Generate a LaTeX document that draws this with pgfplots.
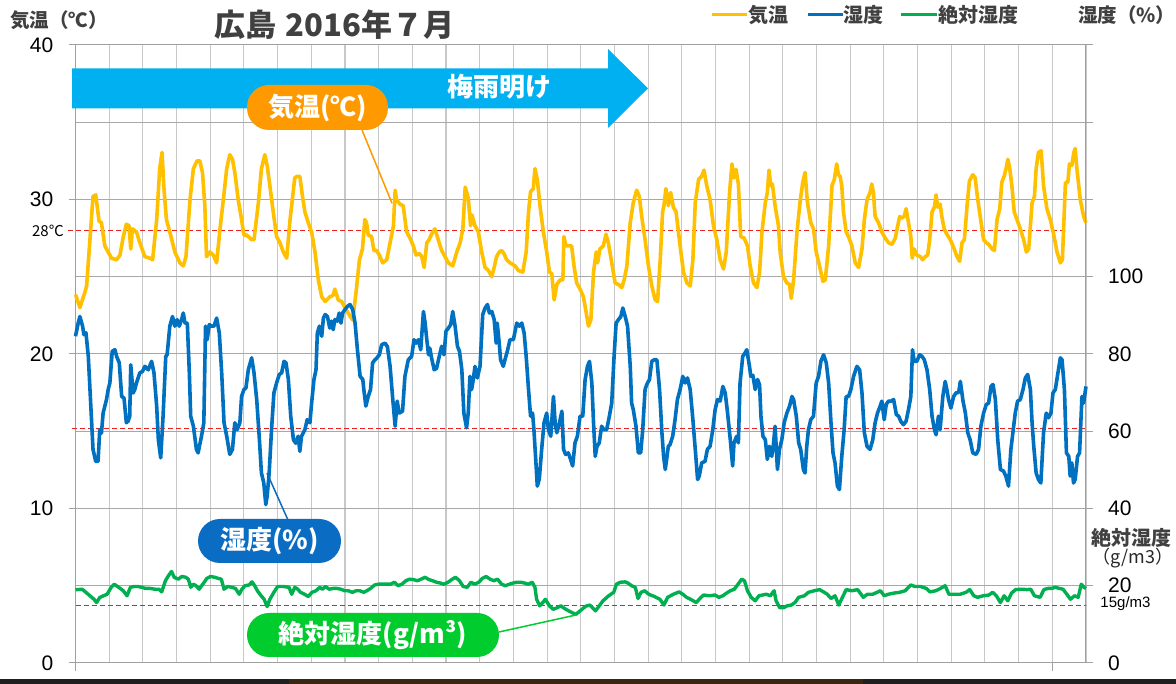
\documentclass[border=0pt]{standalone}
\usepackage{pgfplots}
\pgfplotsset{compat=1.18}
\usepackage{fontspec}
\setmainfont{Liberation Sans}
\newfontfamily\jp{Noto Sans CJK JP}
\definecolor{tempc}{HTML}{FFC000}
\definecolor{humc}{HTML}{0070C0}
\definecolor{ahc}{HTML}{00B050}
\definecolor{arrowc}{HTML}{00B0F0}
\definecolor{orb}{HTML}{FF9900}
\definecolor{blb}{HTML}{0A6CC2}
\definecolor{grb}{HTML}{00CC2E}
\definecolor{txt}{HTML}{404040}
\definecolor{vgrid}{HTML}{C8C8C8}
\definecolor{hgrid}{HTML}{A8A8A8}
\definecolor{axg}{HTML}{A0A0A0}
\definecolor{redd}{HTML}{E8201E}
\pgfplotsset{
  base/.style={
    scale only axis, width=1010.5pt, height=618pt,
    at={(75.5pt,21pt)}, anchor=south west,
    xmin=0, xmax=30, clip=false,
    tick align=outside, major tick length=7pt, minor tick length=0pt,
    axis line style={draw=axg, line width=1pt},
    /pgf/number format/assume math mode=true,
    tick label style={font=\fontsize{21}{21}\selectfont, text=black, inner sep=0pt},
  }
}
\begin{document}
\begin{tikzpicture}[x=1pt,y=1pt]
\useasboundingbox (0,0) rectangle (1176,684);
\fill[white] (0,0) rectangle (1176,684);
% left axis: temperature
\begin{axis}[base,
  ymin=0, ymax=40,
  xtick={0,1,...,30}, xticklabels={}, x tick style={draw=none},
  ytick={0,10,20,30,40}, minor ytick={0,5,...,40},
  y tick style={draw=axg, line width=1pt},
  xmajorgrids, yminorgrids,
  major grid style={draw=vgrid, line width=1.1pt},
  minor grid style={draw=hgrid, line width=1pt},
  yticklabel style={anchor=east, xshift=-15pt},
]
\draw[redd, dash pattern=on 5pt off 3pt, line width=1.1pt] (axis cs:-0.21,28) -- (axis cs:29.47,28);
\addplot[tempc, line width=3.6pt, line join=round, no markers] table {
0 23.85
0.13 23.0
0.28 24.0
0.33 24.4
0.52 30.2
0.60 30.3
0.70 28.6
0.77 28.5
0.87 27.0
0.97 26.6
1.07 26.2
1.22 26.1
1.32 26.4
1.42 27.6
1.51 28.4
1.59 28.3
1.64 26.8
1.69 28.1
1.81 27.9
1.91 27.2
2.06 26.3
2.21 26.2
2.29 26.1
2.41 28.7
2.50 32.0
2.57 33.05
2.62 30.9
2.70 28.7
2.80 27.9
2.95 26.6
3.10 25.9
3.20 25.7
3.28 26.3
3.40 30.0
3.50 32.0
3.61 32.5
3.69 32.5
3.77 31.75
3.84 29.6
3.89 26.3
3.99 26.6
4.09 26.4
4.19 25.9
4.29 28.1
4.39 30.0
4.49 32.0
4.58 32.9
4.66 32.6
4.73 31.75
4.83 30.0
4.93 28.7
5.00 27.7
5.08 27.7
5.23 27.4
5.30 27.4
5.43 29.8
5.52 32.0
5.62 32.9
5.69 32.2
5.77 30.9
5.87 29.2
5.97 27.6
6.07 27.2
6.17 26.6
6.27 26.2
6.37 28.7
6.51 31.4
6.58 31.5
6.66 31.5
6.74 30.2
6.81 29.2
6.91 28.5
7.01 27.9
7.11 26.6
7.21 24.8
7.31 23.7
7.41 23.4
7.55 23.7
7.65 23.8
7.70 24.2
7.80 23.5
7.90 23.4
8.00 23.0
8.15 22.45
8.23 22.2
8.33 24.0
8.43 26.1
8.52 26.8
8.59 28.7
8.64 28.5
8.69 27.7
8.79 27.6
8.86 26.7
8.94 26.7
9.02 26.4
9.12 25.9
9.24 26.1
9.34 27.2
9.44 28.3
9.49 30.6
9.53 30.0
9.63 29.7
9.73 29.6
9.83 27.9
9.93 27.5
10.03 27.0
10.11 26.4
10.21 26.5
10.28 26.3
10.35 25.6
10.43 27.2
10.50 27.4
10.57 27.75
10.67 28.1
10.77 27.4
10.87 26.7
10.97 26.3
11.07 25.9
11.20 25.7
11.32 26.6
11.42 27.2
11.50 28.1
11.57 30.8
11.66 30.1
11.73 28.3
11.77 29.0
11.86 28.3
11.96 27.9
12.06 26.6
12.16 25.6
12.26 25.4
12.36 25.0
12.44 25.7
12.50 26.3
12.58 26.6
12.65 26.7
12.72 26.5
12.80 26.1
12.90 25.9
13.05 25.7
13.15 25.4
13.28 25.3
13.38 26.6
13.45 29.2
13.51 30.5
13.59 30.7
13.64 32.0
13.71 31.3
13.79 29.6
13.89 27.9
13.99 26.6
14.07 25.3
14.14 25.2
14.21 23.5
14.29 24.5
14.39 24.8
14.47 24.8
14.50 27.6
14.56 27.0
14.63 27.0
14.73 27.0
14.80 25.7
14.88 24.6
14.98 24.2
15.08 23.7
15.16 22.7
15.23 21.8
15.30 22.2
15.38 25.3
15.46 26.6
15.50 25.9
15.57 26.8
15.67 27.0
15.75 27.75
15.82 27.2
15.92 25.9
16.02 24.6
16.12 24.5
16.22 24.3
16.29 24.8
16.37 25.7
16.47 28.5
16.56 29.8
16.66 30.6
16.74 30.2
16.81 28.9
16.91 27.4
17.01 25.7
17.11 24.4
17.21 23.5
17.28 23.4
17.36 26.1
17.43 29.2
17.47 29.6
17.53 30.7
17.60 29.6
17.67 30.45
17.75 29.5
17.83 29.2
17.95 27.0
18.05 25.3
18.15 24.6
18.25 24.4
18.33 26.1
18.40 29.8
18.50 31.3
18.59 31.5
18.66 31.9
18.74 30.9
18.84 30.0
18.94 28.3
19.04 27.4
19.14 26.1
19.24 25.5
19.32 26.6
19.42 30.5
19.49 32.3
19.55 31.4
19.61 31.95
19.68 31.0
19.75 27.6
19.85 27.5
19.95 27.0
20.03 25.7
20.13 24.6
20.23 24.3
20.31 25.3
20.38 27.9
20.48 29.8
20.54 30.45
20.59 31.9
20.64 30.9
20.69 31.0
20.77 29.6
20.87 28.3
20.92 26.6
21.02 25.0
21.12 24.6
21.20 24.5
21.25 23.6
21.32 24.8
21.42 27.9
21.51 29.8
21.59 31.1
21.66 31.75
21.73 29.8
21.83 28.5
21.91 28.1
21.99 26.6
22.09 25.7
22.19 24.7
22.26 24.8
22.36 27.0
22.46 30.9
22.53 31.3
22.60 32.3
22.65 31.6
22.70 31.5
22.75 30.9
22.80 29.2
22.88 27.9
22.95 27.6
23.05 27.0
23.15 25.9
23.25 25.6
23.35 26.8
23.42 28.7
23.50 30.0
23.59 30.45
23.64 31.0
23.69 30.45
23.74 28.9
23.84 28.5
23.94 27.9
24.04 27.5
24.14 27.2
24.24 27.1
24.34 27.5
24.41 28.3
24.47 28.9
24.53 28.8
24.60 28.9
24.66 29.4
24.73 28.5
24.80 27.6
24.84 26.2
24.90 26.8
24.98 26.4
25.08 26.3
25.15 26.1
25.23 26.3
25.30 26.4
25.36 27.4
25.43 29.2
25.50 29.5
25.55 30.3
25.60 29.5
25.67 29.7
25.72 28.9
25.79 28.1
25.87 27.75
25.97 27.4
26.07 26.9
26.17 26.3
26.25 26.0
26.32 27.2
26.39 27.4
26.47 29.6
26.54 31.2
26.64 31.6
26.71 31.4
26.78 30.1
26.86 28.9
26.96 27.4
27.04 27.2
27.11 27.1
27.21 26.8
27.28 26.7
27.36 28.7
27.44 29.4
27.50 31.1
27.57 31.5
27.63 32.0
27.68 32.6
27.73 32.1
27.80 30.9
27.87 29.2
27.95 28.7
28.05 28.1
28.15 27.4
28.23 26.6
28.30 26.8
28.40 29.8
28.47 30.2
28.52 32.0
28.59 33.05
28.67 33.15
28.74 30.9
28.84 29.4
28.94 28.7
29.04 27.75
29.14 26.6
29.24 25.9
29.30 26.1
29.39 31.1
29.46 31.1
29.51 32.3
29.58 32.2
29.64 33.05
29.68 33.3
29.73 32.0
29.83 30.0
29.93 28.9
30.00 28.5
};
\end{axis}
% right axis: humidity and absolute humidity
\begin{axis}[base,
  ymin=0, ymax=160,
  axis x line=none, axis y line*=right,
  ytick={0,20,...,160}, yticklabels={0,20,40,60,80,100,{},{},{}},
  y tick style={draw=axg, line width=1pt},
  yticklabel style={anchor=west, xshift=15pt},
]
\draw[redd, dash pattern=on 5pt off 3pt, line width=1.1pt] (axis cs:-0.09,60.6) -- (axis cs:30,60.6);
\draw[redd, dash pattern=on 5pt off 3pt, line width=1.1pt] (axis cs:0,15) -- (axis cs:30,15);
\addplot[ahc, line width=3.4pt, line join=round, no markers] table {
0 18.96
0.20 19.1
0.375 17.8
0.55 16.5
0.625 15.65
0.72 16.96
0.83 17.4
0.94 17.8
1.06 19.6
1.15 20.4
1.28 19.6
1.42 18.7
1.53 17.4
1.63 19.6
1.74 19.8
1.85 19.8
1.97 19.6
2.08 19.3
2.22 19.3
2.36 19.1
2.48 19.1
2.56 18.4
2.67 21.3
2.76 22.6
2.85 23.7
2.93 22.2
3.05 21.7
3.16 22.4
3.27 22.2
3.35 21.7
3.42 19.6
3.50 20.4
3.58 20.0
3.67 19.1
3.78 20.4
3.90 21.9
4.01 22.4
4.13 22.2
4.24 21.9
4.33 21.7
4.41 19.1
4.52 19.8
4.64 19.6
4.75 19.3
4.86 17.8
4.94 19.1
5.03 20.0
5.15 20.2
5.24 21.0
5.32 20.0
5.40 18.7
5.51 17.4
5.60 16.5
5.69 14.6
5.77 16.5
5.89 18.3
6.00 19.8
6.17 19.8
6.34 19.6
6.42 17.8
6.51 19.6
6.60 19.1
6.68 18.3
6.80 17.8
6.91 17.2
7.02 18.3
7.14 18.7
7.25 19.6
7.33 19.1
7.42 19.8
7.53 19.1
7.65 19.3
7.76 19.3
7.88 19.1
7.99 18.7
8.10 18.7
8.22 18.3
8.33 18.7
8.44 18.7
8.56 18.3
8.65 18.7
8.76 19.3
8.88 20.2
8.99 20.4
9.13 20.4
9.24 20.4
9.35 20.4
9.47 20.9
9.58 20.0
9.69 20.4
9.81 21.3
9.92 21.7
10.03 21.6
10.15 21.3
10.26 21.7
10.38 22.2
10.49 21.6
10.60 21.3
10.72 20.9
10.83 20.7
10.94 20.4
11.06 20.9
11.17 21.6
11.28 22.2
11.40 21.3
11.51 19.8
11.63 19.6
11.74 20.9
11.85 20.4
11.97 20.9
12.08 21.9
12.19 22.4
12.31 21.7
12.42 21.3
12.53 21.7
12.65 20.4
12.76 20.0
12.88 20.4
12.99 20.7
13.10 20.9
13.22 20.9
13.33 20.7
13.44 20.4
13.56 20.9
13.64 19.6
13.69 16.5
13.78 14.8
13.88 15.7
13.95 16.5
14.07 14.8
14.18 13.9
14.30 14.3
14.41 14.8
14.52 14.1
14.64 13.5
14.75 13.0
14.86 12.6
14.98 13.5
15.15 14.7
15.27 15.0
15.44 13.5
15.55 14.8
15.66 16.1
15.83 17.4
15.98 18.3
16.06 20.4
16.17 20.9
16.32 21.0
16.40 20.7
16.51 20.0
16.62 19.6
16.70 16.7
16.79 18.3
16.90 18.7
17.02 17.8
17.19 17.2
17.35 16.5
17.47 15.0
17.58 17.0
17.75 17.8
17.92 18.4
18.03 17.8
18.14 17.0
18.26 16.5
18.43 15.65
18.57 17.0
18.65 17.6
18.82 17.4
18.99 17.6
19.10 17.0
19.22 17.4
19.33 18.1
19.44 18.7
19.56 19.1
19.67 20.4
19.78 21.7
19.86 21.3
19.95 18.7
20.06 17.0
20.18 16.1
20.29 17.4
20.40 17.6
20.51 17.8
20.63 17.4
20.74 18.7
20.80 16.1
20.91 14.3
21.02 14.3
21.13 14.8
21.25 15.0
21.36 15.65
21.47 17.0
21.64 17.4
21.76 18.3
21.93 18.7
22.09 19.0
22.21 18.4
22.32 17.8
22.43 16.7
22.55 17.4
22.66 15.0
22.77 17.0
22.88 19.0
23.05 18.7
23.22 19.0
23.39 17.0
23.51 17.8
23.67 17.8
23.90 18.7
24.01 17.4
24.13 17.8
24.30 18.1
24.47 18.3
24.63 18.7
24.80 20.2
24.92 19.8
25.09 19.8
25.26 19.3
25.37 18.4
25.54 18.7
25.68 19.3
25.82 20.0
25.93 17.8
26.10 17.8
26.27 17.8
26.44 18.3
26.55 19.0
26.67 17.4
26.78 17.0
26.95 17.4
27.12 17.6
27.23 18.3
27.34 17.4
27.46 15.65
27.57 17.4
27.68 16.1
27.79 18.1
27.91 19.0
28.08 19.1
28.25 19.0
28.36 19.1
28.47 17.4
28.64 17.0
28.75 19.0
28.87 19.3
28.98 19.3
29.09 19.6
29.21 19.3
29.32 19.1
29.45 17.6
29.54 16.5
29.66 17.4
29.77 17.0
29.86 20.4
29.94 19.6
30.00 19.3
};
\addplot[humc, line width=3.6pt, line join=round, no markers] table {
0 84.6
0.08 88
0.13 89.7
0.21 87.2
0.25 85
0.31 85.5
0.38 79.4
0.43 70.8
0.48 62.2
0.52 55.3
0.60 52.2
0.67 52.2
0.72 60.4
0.77 59.5
0.82 64.7
0.92 68.2
0.97 70.8
1.02 72.5
1.09 80.7
1.17 81.1
1.22 79.4
1.30 77.7
1.37 69
1.44 68.6
1.51 62.2
1.56 62.6
1.61 63.9
1.64 77.2
1.71 69.9
1.76 70.8
1.81 72.5
1.91 75.1
1.99 75.5
2.06 76.8
2.16 75.9
2.26 78.1
2.33 75.1
2.41 66.5
2.46 57.8
2.53 53.1
2.60 63.9
2.68 79.4
2.72 79.8
2.80 87.2
2.88 89.7
2.95 87.2
3.02 88.9
3.08 87.2
3.15 88.9
3.20 90.6
3.25 88
3.32 88
3.38 75.1
3.42 63.9
3.50 61.3
3.59 55.3
3.64 54.4
3.74 58.7
3.81 62.2
3.86 87.2
3.91 83.7
3.97 87.6
4.04 87.2
4.11 87.2
4.19 89.3
4.27 85.4
4.34 75.1
4.41 62.2
4.49 58.7
4.58 54.0
4.66 55.3
4.73 62.2
4.80 60.4
4.88 62.2
4.93 69
5.00 70.8
5.06 71.2
5.13 75.9
5.23 79.0
5.30 75.1
5.38 68.2
5.46 57.8
5.52 49.2
5.59 46.6
5.65 41.0
5.69 43.2
5.75 49.2
5.82 60.4
5.89 69.9
5.97 72.5
6.05 74.7
6.12 75.1
6.19 78.1
6.25 77.7
6.32 73.4
6.39 63.9
6.47 57.8
6.54 56.9
6.61 58.7
6.66 54.8
6.71 58.7
6.81 60.4
6.88 63.0
6.96 62.2
7.01 67.3
7.08 73.4
7.14 75.9
7.18 85.4
7.24 87.2
7.31 84.6
7.36 89.3
7.41 90.2
7.48 89.7
7.55 86.7
7.60 88.5
7.65 86.3
7.70 88.9
7.77 88.5
7.83 90.6
7.88 88
7.93 90.6
8.00 91.5
8.07 92.3
8.15 92.8
8.23 91.5
8.30 88.0
8.37 81.1
8.45 74.2
8.53 73.4
8.56 70.8
8.62 66.5
8.69 69.0
8.76 70.8
8.82 77.7
8.89 78.5
8.94 78.9
9.02 79.8
9.09 82.4
9.19 82.8
9.26 81.9
9.34 76.8
9.42 68.2
9.49 61.3
9.55 67.8
9.61 64.7
9.71 65.2
9.78 74.2
9.88 78.5
9.98 79.4
10.05 83.7
10.11 82.8
10.18 83.7
10.25 81.1
10.33 91.0
10.38 88.0
10.43 83.7
10.48 79.8
10.52 81.5
10.57 79.0
10.65 75.9
10.72 76.3
10.80 79.4
10.87 82.0
10.94 79.8
11.00 85.9
11.07 86.7
11.14 87.6
11.20 91.0
11.27 87.2
11.34 82.0
11.40 80.7
11.47 75.9
11.53 64.7
11.61 60.9
11.66 64.7
11.71 74.2
11.76 70.8
11.81 73.4
11.86 76.8
11.93 73.8
12.01 76.8
12.09 90.2
12.16 91.9
12.23 92.8
12.29 90.6
12.36 91.0
12.43 88.9
12.49 82.8
12.52 88.0
12.58 82.8
12.62 78.5
12.70 76.8
12.75 78.5
12.82 80.7
12.90 83.7
13.00 83.7
13.10 88.0
13.18 87.2
13.25 88.0
13.32 85.4
13.38 79.4
13.45 70.8
13.51 63.9
13.57 64.7
13.61 60.4
13.67 51.8
13.71 45.8
13.77 47.6
13.84 55.3
13.91 62.2
13.99 64.7
14.04 60.4
14.11 58.7
14.19 69.0
14.24 62.2
14.29 59.6
14.37 62.2
14.44 65.2
14.49 55.3
14.55 54.0
14.63 54.4
14.70 52.7
14.76 51.0
14.83 57.0
14.90 58.7
14.98 63.9
15.06 63.9
15.13 73.4
15.20 76.8
15.26 78.1
15.33 72.5
15.38 62.2
15.43 53.5
15.48 56.0
15.55 57.0
15.62 61.3
15.69 60.4
15.77 60.4
15.85 63.9
15.92 67.3
15.99 79.4
16.05 88.0
16.12 88.9
16.19 89.7
16.25 91.9
16.32 89.7
16.39 87.2
16.47 76.8
16.51 67.3
16.56 65.6
16.64 61.3
16.71 54.4
16.78 54.4
16.84 60.4
16.91 70.8
16.96 72.1
17.04 73.4
17.11 78.1
17.18 78.5
17.26 78.5
17.34 70.8
17.41 59.6
17.46 53.5
17.51 50.1
17.55 52.7
17.60 56.1
17.65 56.5
17.73 58.7
17.80 63.0
17.87 68.2
17.95 70.8
18.03 74.2
18.10 72.5
18.17 73.8
18.25 70.8
18.33 63.0
18.40 55.3
18.47 47.5
18.52 48.4
18.59 51.8
18.69 52.2
18.76 55.3
18.84 56.1
18.92 60.4
18.99 65.6
19.06 68.2
19.14 67.8
19.22 71.6
19.29 69.9
19.36 64.7
19.44 57.8
19.51 51.0
19.55 57.0
19.63 58.7
19.68 57.0
19.73 72.5
19.81 79.4
19.88 80.3
19.93 81.1
20.01 76.8
20.05 74.2
20.11 74.5
20.18 70.8
20.25 73.4
20.31 72.0
20.35 63.9
20.41 58.7
20.48 57.8
20.54 52.7
20.60 56.1
20.67 53.5
20.72 56.5
20.77 61.3
20.84 50.1
20.90 55.3
20.97 57.8
21.04 62.2
21.12 64.7
21.20 66.5
21.27 69.0
21.32 68.2
21.40 63.9
21.47 57.0
21.53 55.3
21.61 50.1
21.66 49.2
21.71 56.1
21.76 60.4
21.83 63.0
21.91 63.9
21.99 72.5
22.06 74.2
22.13 78.1
22.21 79.8
22.29 77.7
22.36 72.5
22.43 62.2
22.49 54.4
22.55 51.8
22.62 45.8
22.68 44.9
22.75 53.5
22.82 60.4
22.88 69.0
22.95 69.0
23.02 70.8
23.10 74.2
23.20 76.8
23.28 75.9
23.35 69.9
23.42 59.6
23.50 56.1
23.59 55.3
23.67 57.8
23.74 62.2
23.81 64.7
23.89 66.5
23.94 67.8
24.01 63.0
24.07 67.0
24.14 67.8
24.21 67.8
24.29 68.2
24.37 64.3
24.44 63.9
24.50 62.6
24.58 61.7
24.66 62.6
24.73 65.6
24.80 69.0
24.85 81.1
24.90 78.1
24.98 78.1
25.06 79.8
25.13 79.4
25.20 78.5
25.28 75.9
25.36 70.8
25.43 63.9
25.50 60.4
25.55 59.1
25.62 63.9
25.67 60.4
25.75 69.0
25.82 72.9
25.87 70.8
25.92 68.2
25.99 66.0
26.07 69.0
26.15 70.0
26.22 70.0
26.27 72.9
26.35 67.8
26.42 64.7
26.49 59.6
26.56 57.8
26.64 54.4
26.74 54.0
26.81 55.3
26.88 61.3
26.96 64.7
27.04 66.9
27.11 67.3
27.18 71.6
27.24 72.1
27.31 68.2
27.38 57.8
27.46 50.1
27.55 49.7
27.62 48.4
27.70 45.8
27.77 55.3
27.83 59.6
27.90 64.7
27.97 67.8
28.05 68.2
28.13 70.8
28.20 73.8
28.27 74.7
28.35 70.8
28.40 62.2
28.45 56.1
28.52 49.2
28.59 47.5
28.66 46.6
28.74 59.6
28.82 64.7
28.89 63.5
28.96 64.7
29.02 69.9
29.09 70.8
29.16 74.7
29.24 79.0
29.29 78.5
29.36 70.8
29.42 54.4
29.49 53.5
29.53 48.4
29.58 51.8
29.63 46.6
29.68 47.5
29.75 53.5
29.81 54.4
29.88 69.0
29.93 67.3
30.00 71.6
};
\end{axis}
% small axis extensions below the bottom line
\draw[axg, line width=1pt] (75.5,21) -- (75.5,13.3);
\draw[axg, line width=1pt] (1052,21) -- (1052,13.3);
% rainy-season arrow
\fill[arrowc] (72,615.7) -- (608,615.7) -- (608,635) -- (648,595.7) -- (608,556) -- (608,575.7) -- (72,575.7) -- cycle;
\node[text=white, font=\jp\bfseries\fontsize{26}{26}\selectfont, inner sep=0pt] at (499,597.3) {梅雨明け};
% leader lines
\draw[orb, line width=1.5pt] (362,554) -- (392,480.7);
\draw[blb, line width=1.5pt] (267,211) -- (288,164);
\draw[grb, line width=1.5pt] (499,52) -- (576,69);
% bubbles
\node[fill=orb, rounded corners=22pt, minimum width=141pt, minimum height=45pt, inner sep=0pt, text=white, font=\jp\bfseries\fontsize{26}{26}\selectfont] at (317.5,576.5) {気温(℃)};
\node[fill=blb, rounded corners=22pt, minimum width=143pt, minimum height=44pt, inner sep=0pt, text=white, font=\jp\bfseries\fontsize{26}{26}\selectfont] at (269.5,143) {湿度(\%)};
\node[fill=grb, rounded corners=22pt, minimum width=252pt, minimum height=44pt, inner sep=0pt, text=white, font=\jp\bfseries\fontsize{26}{26}\selectfont] at (373,49) {絶対湿度(g/m³)};
% title and axis titles
\node[text=txt, font=\jp\bfseries\fontsize{31}{31}\selectfont, inner sep=0pt] at (334.5,659) {広島\hspace{9pt}2016年７月};
\node[text=txt, font=\jp\bfseries\fontsize{19.5}{19.5}\selectfont, inner sep=0pt, anchor=west] at (10,664) {気温（℃）};
\node[text=txt, font=\jp\bfseries\fontsize{19.5}{19.5}\selectfont, inner sep=0pt, anchor=west] at (1078,669) {湿度（\%）};
% legend
\draw[tempc, line width=3pt] (712,669) -- (747,669);
\node[text=txt, font=\jp\bfseries\fontsize{20}{20}\selectfont, inner sep=0pt, anchor=west] at (748,669) {気温};
\draw[humc, line width=3pt] (807.6,669) -- (842.5,669);
\node[text=txt, font=\jp\bfseries\fontsize{20}{20}\selectfont, inner sep=0pt, anchor=west] at (843.5,669) {湿度};
\draw[ahc, line width=3pt] (901,669) -- (937,669);
\node[text=txt, font=\jp\bfseries\fontsize{20}{20}\selectfont, inner sep=0pt, anchor=west] at (938,669) {絶対湿度};
% right side labels
\node[text=txt, font=\jp\bfseries\fontsize{20}{20}\selectfont, inner sep=0pt] at (1131,146) {絶対湿度};
\node[text=black!85, font=\jp\fontsize{18}{18}\selectfont, inner sep=0pt] at (1133,125.5) {（g/m3）};
\node[text=black, font=\fontsize{15}{15}\selectfont, inner sep=0pt] at (1125.5,80) {15g/m3};
\node[text=black, font=\jp\fontsize{15}{15}\selectfont, inner sep=0pt, anchor=east] at (64,453) {28℃};
% photo strip at the bottom
\fill[black!88] (0,0) rectangle (289,4.5);
\fill[black!70!brown] (289,0) rectangle (863,4.5);
\fill[black!88] (863,0) rectangle (1176,4.5);
\end{tikzpicture}
\end{document}
